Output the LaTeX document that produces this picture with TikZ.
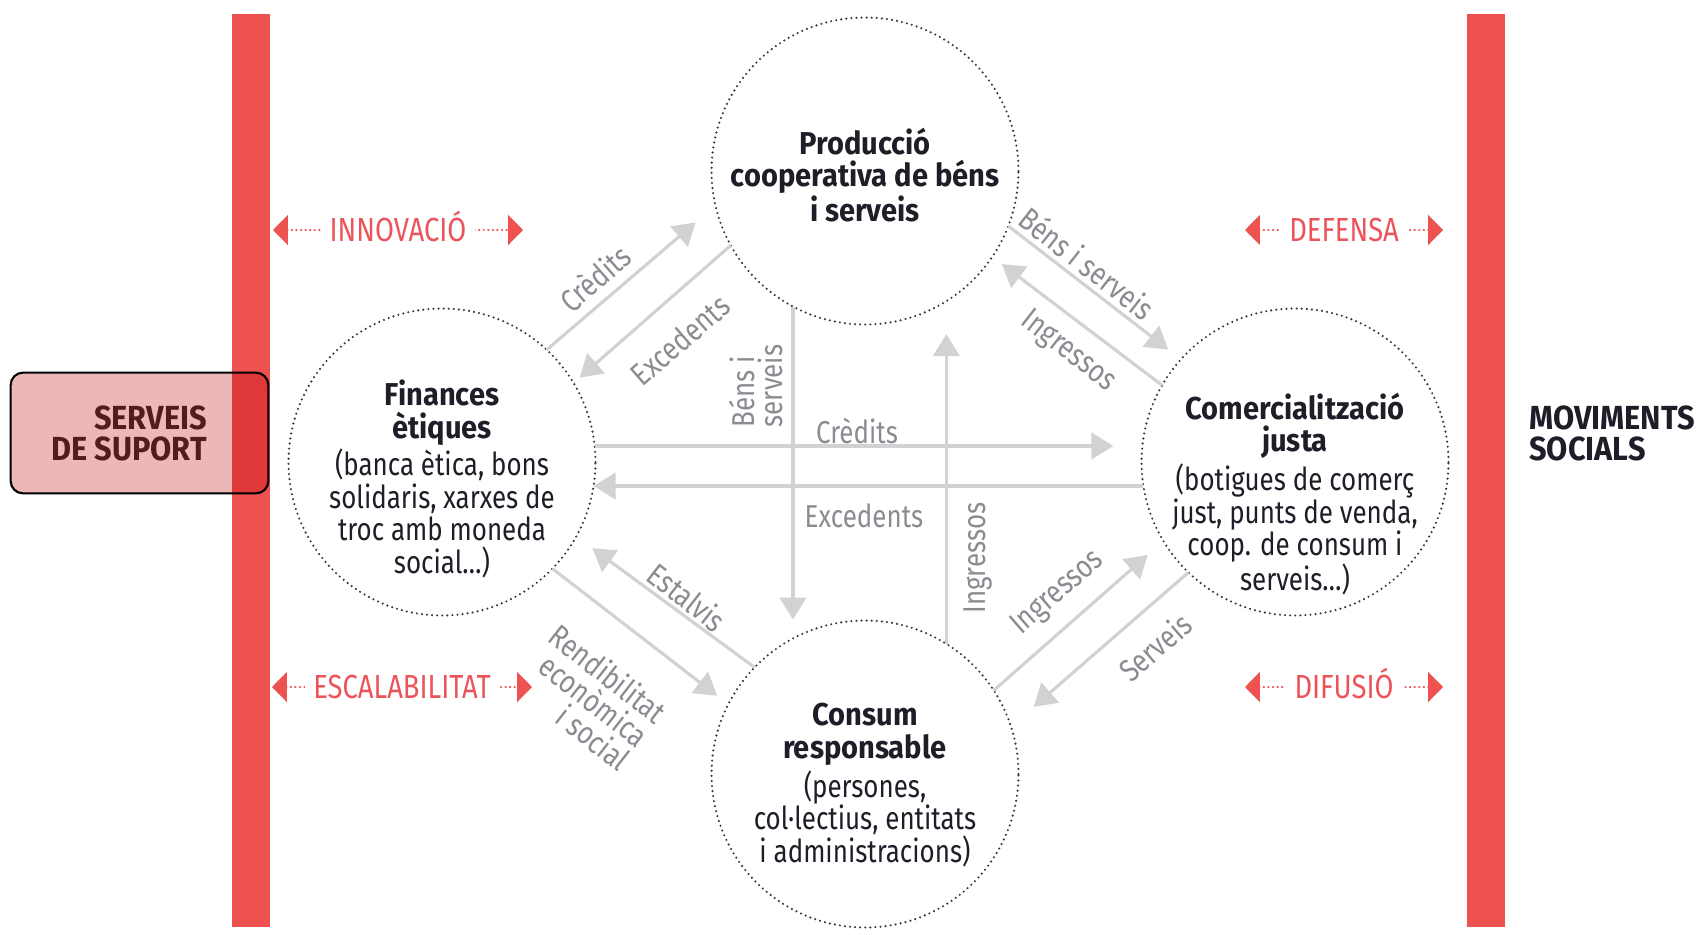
\documentclass[tikz,border=0pt]{standalone}
\usepackage{fontspec}
\setmainfont{Fira Sans}[FakeStretch=0.82, BoldFeatures={FakeStretch=0.92}]
\usetikzlibrary{arrows.meta}
\usepackage{xcolor}
\definecolor{bar}{RGB}{237, 82, 80}
\definecolor{rtx}{RGB}{236, 84, 92}
\definecolor{sup}{RGB}{236, 183, 183}
\definecolor{supd}{RGB}{224, 56, 56}
\definecolor{supt}{RGB}{80, 28, 28}
\definecolor{lin}{RGB}{210, 210, 212}
\definecolor{lab}{RGB}{138, 140, 146}
\definecolor{dotc}{RGB}{55, 55, 65}
\definecolor{ink}{RGB}{30, 30, 40}

\begin{document}
\begin{tikzpicture}[x=0.02cm, y=-0.02cm,
        circ/.style={circle, draw=dotc, line width=1.35pt, dash pattern=on 0pt off 2.9pt, line cap=round, minimum size=6.14cm, inner sep=0pt, outer sep=0pt},
        txt/.style={align=center, text=ink, font=\fontsize{18}{18.5}\selectfont},
        garr/.style={draw=lin, line width=1.8pt, -{Triangle[length=12.5pt, width=15pt]}},
        glab/.style={text=lab, font=\fontsize{18}{18}\selectfont, align=center, inner sep=0pt},
        rarr/.style={draw=bar, line width=1.4pt, dash pattern=on 0pt off 2.6pt, line cap=round, {Triangle[length=8.5pt, width=17pt]}-{Triangle[length=8.5pt, width=17pt]}},
        rlab/.style={fill=white, text=rtx, font=\fontsize{19}{20}\selectfont, text height=13pt, text depth=0pt, inner xsep=5pt, inner ysep=1pt},
        big/.style={text=#1, font=\bfseries\fontsize{19}{17.6}\selectfont}]
        \useasboundingbox (0,0) rectangle (1706,934);
        % side bars
        \fill[bar] (232,14) rectangle (270,927);
        \fill[bar] (1467,14) rectangle (1505,927);
        \node[fill=sup, minimum width=5.14cm, minimum height=2.4cm, rounded corners=7pt] (sup) at (139.5,433) {};
        \begin{scope}
            \clip[rounded corners=7pt] (sup.south west) rectangle (sup.north east);
            \fill[supd] (232,373) rectangle (270,493);
        \end{scope}
        \draw[line width=1.2pt, rounded corners=7pt] (sup.south west) rectangle (sup.north east);
        \node[big=supt, align=right, anchor=east] (supt) at (213,433) {SERVEIS\\DE SUPORT};
        \node[big=ink, align=left, anchor=west] (mov) at (1523,433) {MOVIMENTS\\SOCIALS};

        % the four circles
        \node[circ] (prod) at (865,171) {};
        \node[circ] (fin) at (442,462) {};
        \node[circ] (comer) at (1295,462) {};
        \node[circ] (cons) at (865,774) {};
        \node[txt] (prodt) at (865,175) {\textbf{Producció}\\\textbf{cooperativa de béns}\\\textbf{i serveis}};
        \node[txt] (fint) at (442,479) {\textbf{Finances}\\\textbf{ètiques}\\[1pt](banca ètica, bons\\solidaris, xarxes de\\troc amb moneda\\social…)};
        \node[txt] (comert) at (1295,494) {\textbf{Comercialització}\\\textbf{justa}\\[2pt](botigues de comerç\\just, punts de venda,\\coop. de consum i\\serveis…)};
        \node[txt] (const) at (865,785) {\textbf{Consum}\\\textbf{responsable}\\[2pt](persones,\\col·lectius, entitats\\i administracions)};

        % flows
        \draw[garr, shorten >=0.52cm] (fin.47) -- (prod.193);
        \draw[garr, shorten >=0.16cm] (prod.209) -- (fin.31);
        \draw[garr, shorten >=0.32cm] (prod.339) -- (comer.138);
        \draw[garr, shorten >=0.24cm] (comer.150) -- (prod.326);
        \draw[garr, shorten >=0.28cm] (fin.316) -- (cons.153);
        \draw[garr, shorten >=0.4cm] (cons.136) -- (fin.331);
        \draw[garr, shorten >=0.42cm] (cons.33) -- (comer.211);
        \draw[garr, shorten >=0.6cm] (comer.226) -- (cons.18);
        \draw[garr, shorten >=0.38cm] (prod.242) -- (cons.118);
        \draw[garr, shorten >=0.66cm] (cons.58) -- (prod.302);
        \draw[garr, shorten >=0.58cm] (fin.6) -- (comer.174);
        \draw[garr] (comer.189) -- (fin.351);

        \node[glab, rotate=41] (l1) at (595,278) {Crèdits};
        \node[glab, rotate=41] (l2) at (680,340) {Excedents};
        \node[glab, rotate=-38] (l3) at (1087,263) {Béns i serveis};
        \node[glab, rotate=-38] (l4) at (1068,352) {Ingressos};
        \node[glab, rotate=-38] (l5) at (687,597) {Estalvis};
        \node[glab, rotate=-38, align=right, font=\fontsize{18}{17}\selectfont] (l6) at (590,697) {Rendibilitat\\econòmica\\i social};
        \node[glab, rotate=41] (l7) at (1058,593) {Ingressos};
        \node[glab, rotate=41] (l8) at (1155,647) {Serveis};
        \node[glab, rotate=90, align=left, font=\fontsize{18}{15.5}\selectfont] (l9) at (756,386) {Béns i\\serveis};
        \node[glab, rotate=90] (l10) at (978,558) {Ingressos};
        \node[glab] (l11) at (857,431) {Crèdits};
        \node[glab] (l12) at (864,516) {Excedents};

        % red labels
        \coordinate (innl) at (273,230);
        \coordinate (innr) at (523,230);
        \coordinate (defl) at (1245,230);
        \coordinate (defr) at (1443,230);
        \coordinate (escl) at (272,687);
        \coordinate (escr) at (532,687);
        \coordinate (difl) at (1245,687);
        \coordinate (difr) at (1443,687);
        \draw[rarr] (innl) -- node[rlab] (inn) {INNOVACIÓ} (innr);
        \draw[rarr] (defl) -- node[rlab] (def) {DEFENSA} (defr);
        \draw[rarr] (escl) -- node[rlab] (esc) {ESCALABILITAT} (escr);
        \draw[rarr] (difl) -- node[rlab] (dif) {DIFUSIÓ} (difr);
    \end{tikzpicture}
\end{document}
